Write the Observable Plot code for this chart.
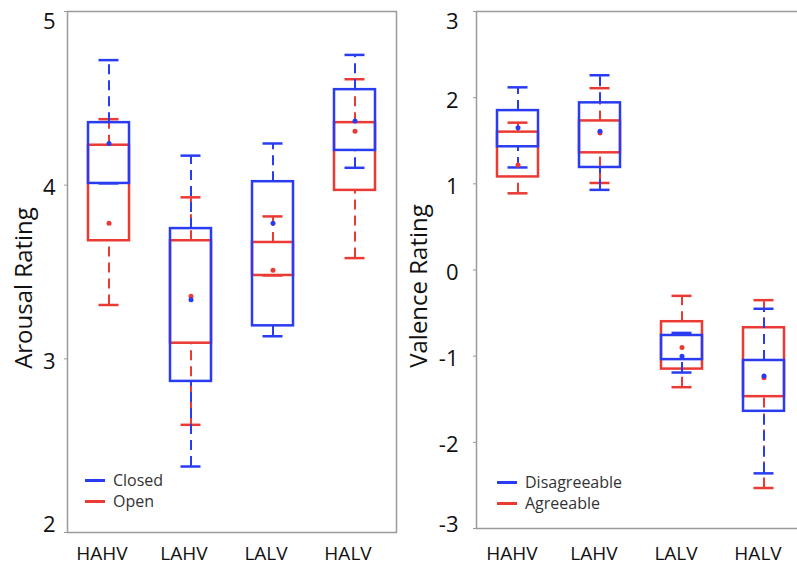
<!DOCTYPE html>
<html>
<head>
<meta charset="utf-8">
<script src="https://cdn.jsdelivr.net/npm/d3@7"></script>
<script src="https://cdn.jsdelivr.net/npm/@observablehq/plot@0.6"></script>
<style>
  body { margin: 0; background: #fff; font-family: "Open Sans", sans-serif; }
  #wrap { position: relative; width: 797px; height: 568px; overflow: hidden; }
  #charts { display: flex; width: 820px; }
  #charts svg { overflow: visible; }
  .legend { position: absolute; font-size: 16px; color: #333; line-height: 21px; }
  .legend .row { display: flex; align-items: center; }
  .legend .sw { width: 20px; height: 0; border-top: 3px solid; margin-right: 8px; }
</style>
</head>
<body>
<div id="wrap">
  <div id="charts"></div>
  <div class="legend" id="legL" style="left:85px; top:470px;"></div>
  <div class="legend" id="legR" style="left:497px; top:472px;"></div>
</div>
<script>
const groups = ["HAHV", "LAHV", "LALV", "HALV"];

// Arousal panel
const arousalSeries = ["Closed", "Open"];
const closedLo   = [4.01, 2.38, 3.13, 4.10];
const closedQ1   = [4.01, 2.87, 3.19, 4.20];
const closedQ3   = [4.36, 3.75, 4.02, 4.55];
const closedHi   = [4.72, 4.17, 4.24, 4.75];
const closedMean = [4.24, 3.34, 3.78, 4.37];
const openLo   = [3.31, 2.62, 3.48, 3.58];
const openQ1   = [3.68, 3.09, 3.48, 3.97];
const openQ3   = [4.23, 3.68, 3.67, 4.36];
const openHi   = [4.38, 3.93, 3.82, 4.61];
const openMean = [3.78, 3.36, 3.51, 4.31];
const arousalTicks = [2, 3, 4, 5];

// Valence panel
const valenceSeries = ["Disagreeable", "Agreeable"];
const disLo   = [1.19, 0.93, -1.19, -2.36];
const disQ1   = [1.43, 1.19, -1.04, -1.64];
const disQ3   = [1.85, 1.94, -0.76, -1.05];
const disHi   = [2.12, 2.26, -0.73, -0.45];
const disMean = [1.65, 1.61, -1.00, -1.23];
const agrLo   = [0.89, 1.01, -1.36, -2.53];
const agrQ1   = [1.08, 1.36, -1.15, -1.47];
const agrQ3   = [1.60, 1.73, -0.60, -0.67];
const agrHi   = [1.71, 2.11, -0.30, -0.35];
const agrMean = [1.22, 1.59, -0.90, -1.25];
const valenceTicks = [-3, -2, -1, 0, 1, 2, 3];

const BLUE = "#2a3cf2";
const RED = "#ea3a33";

function rows(lo, q1, q3, hi, mean) {
  return groups.map((g, i) => ({g, lo: lo[i], q1: q1[i], q3: q3[i], hi: hi[i], mean: mean[i]}));
}

function boxMarks(data, color) {
  return [
    Plot.ruleX(data, {x: "g", y1: "q3", y2: "hi", stroke: color, strokeWidth: 2, strokeDasharray: "10,6"}),
    Plot.ruleX(data, {x: "g", y1: "lo", y2: "q1", stroke: color, strokeWidth: 2, strokeDasharray: "10,6"}),
    Plot.barY(data, {x: "g", y1: "q1", y2: "q3", fill: "none", stroke: color, strokeWidth: 2.5}),
    Plot.tickY(data, {x: "g", y: "hi", stroke: color, strokeWidth: 2.5, insetLeft: 10.5, insetRight: 10.5}),
    Plot.tickY(data, {x: "g", y: "lo", stroke: color, strokeWidth: 2.5, insetLeft: 10.5, insetRight: 10.5})
  ];
}

function yAxes(ticks, tickPadding, bottomDy) {
  const lo = ticks[0], hi = ticks[ticks.length - 1];
  const common = {tickSize: 0, tickPadding: tickPadding + 3, fontSize: 22, fontWeight: 500, fill: "#111", tickFormat: d => String(d), label: null};
  return [
    Plot.axisY({ticks, tickSize: 3, stroke: "#999", tickFormat: () => "", label: null}),
    Plot.axisY({...common, ticks: ticks.slice(1, -1), dy: 3}),
    Plot.axisY({...common, ticks: [hi], dy: 10}),
    Plot.axisY({...common, ticks: [lo], dy: bottomDy})
  ];
}

function panel({width, marginLeft, marginRight, marginBottom, domain, ticks, label, labelDx, tickPadding, bottomDy, xPadding, xDx, blue, red}) {
  return Plot.plot({
    width, height: 568, marginTop: 11, marginBottom, marginLeft, marginRight,
    style: {fontFamily: "Open Sans, sans-serif", background: "transparent", overflow: "visible"},
    x: {type: "band", domain: groups, paddingInner: 0.5, paddingOuter: 0.25},
    y: {domain},
    marks: [
      Plot.frame({stroke: "#9a9a9a", strokeWidth: 1.5}),
      ...yAxes(ticks, tickPadding, bottomDy),
      Plot.axisX({tickSize: 0, tickPadding: xPadding, fontSize: 19, fill: "#111", dx: xDx, label: null}),
      Plot.text([label], {text: d => d, frameAnchor: "left", textAnchor: "middle", rotate: -90, dx: labelDx, dy: 16, fontSize: 24, fill: "#111"}),
      ...boxMarks(red, RED),
      ...boxMarks(blue, BLUE),
      Plot.dot(red, {x: "g", y: "mean", r: 2.5, fill: RED}),
      Plot.dot(blue, {x: "g", y: "mean", r: 2.5, fill: BLUE})
    ]
  });
}

const left = panel({
  width: 420, marginLeft: 67, marginRight: 24, marginBottom: 36,
  domain: [2, 5], ticks: arousalTicks, label: "Arousal Rating", labelDx: -43,
  tickPadding: 9, bottomDy: -8, xPadding: 14, xDx: -7,
  blue: rows(closedLo, closedQ1, closedQ3, closedHi, closedMean),
  red: rows(openLo, openQ1, openQ3, openHi, openMean)
});
const right = panel({
  width: 390, marginLeft: 56, marginRight: 5, marginBottom: 40,
  domain: [-3, 3], ticks: valenceTicks, label: "Valence Rating", labelDx: -57,
  tickPadding: 15, bottomDy: -4, xPadding: 18, xDx: -6,
  blue: rows(disLo, disQ1, disQ3, disHi, disMean),
  red: rows(agrLo, agrQ1, agrQ3, agrHi, agrMean)
});
document.getElementById("charts").append(left, right);

function legend(el, names) {
  [BLUE, RED].forEach((c, i) => {
    const row = document.createElement("div");
    row.className = "row";
    const sw = document.createElement("span");
    sw.className = "sw";
    sw.style.borderColor = c;
    const t = document.createElement("span");
    t.textContent = names[i];
    row.append(sw, t);
    el.append(row);
  });
}
legend(document.getElementById("legL"), arousalSeries);
legend(document.getElementById("legR"), valenceSeries);
</script>
</body>
</html>
